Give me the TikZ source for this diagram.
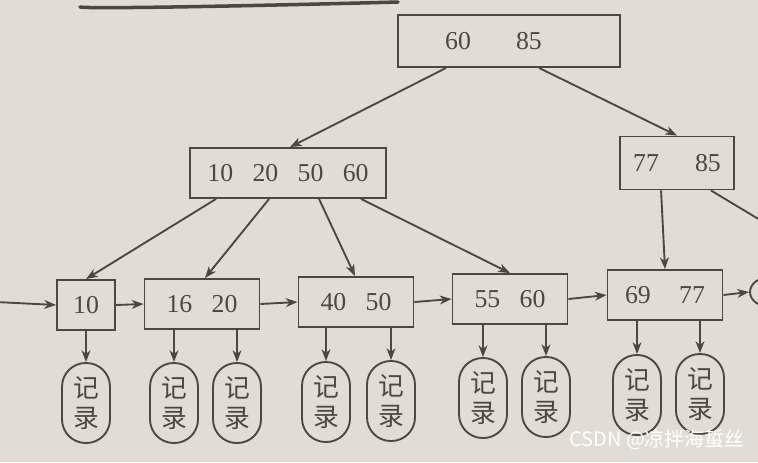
\documentclass[tikz,border=0pt]{standalone}
\usepackage{fontspec}
\setmainfont{Liberation Serif}
\newfontfamily\cjk{Noto Sans CJK SC}
\usetikzlibrary{arrows.meta}
\usetikzlibrary{calc}
\usetikzlibrary{shapes.geometric}
\definecolor{paper}{RGB}{226,221,212}
\definecolor{ink}{RGB}{78,70,64}
\newcommand{\kgap}{\hspace{0.75em}}
\tikzset{
      keybox/.style={draw=ink, line width=1.6, text=ink, inner sep=0pt,
            font=\fontsize{22}{24}\selectfont},
      record/.style={draw=ink, line width=1.6, text=ink, inner sep=0pt,
            rounded corners=0.71cm, minimum width=1.44cm, minimum height=2.4cm,
            align=center, font=\cjk\fontsize{22}{26}\selectfont},
      link/.style={draw=ink, line width=1.6, -{Stealth[length=10pt, width=7.5pt, inset=3pt]}},
}

\begin{document}
\begin{tikzpicture}[x=0.03cm, y=-0.03cm]

        \fill[paper] (0,0) rectangle (758,462);
        \useasboundingbox (0,0) rectangle (758,462);
        \clip (0,0) rectangle (758,462);

        % rule at the top of the page
        \draw[ink, line width=3, line cap=round] (80,7) .. controls (90,9) and (250,6) .. (398,2);

        % index levels
        \node[keybox, minimum width=6.66cm, minimum height=1.56cm] (root) at (509,41) {60\hspace{1.75em}85\hspace{1.2em}\mbox{}};
        \node[keybox, minimum width=5.88cm, minimum height=1.5cm] (inl) at (288,173) {10\kgap 20\kgap 50\kgap 60};
        \node[keybox, minimum width=3.42cm, minimum height=1.59cm] (inr) at (677,163) {77\hspace{1.4em}85};

        % leaves
        \node[keybox, minimum width=1.74cm, minimum height=1.5cm] (leaf1) at (86,305) {10};
        \node[keybox, minimum width=3.45cm, minimum height=1.5cm] (leaf2) at (202,304) {16\kgap 20};
        \node[keybox, minimum width=3.45cm, minimum height=1.5cm] (leaf3) at (356,302) {40\kgap 50};
        \node[keybox, minimum width=3.45cm, minimum height=1.5cm] (leaf4) at (510,299) {55\kgap 60};
        \node[keybox, minimum width=3.45cm, minimum height=1.5cm] (leaf5) at (665,295) {69\hspace{1.1em}77};
        \node[draw=ink, line width=1.6, ellipse, minimum width=1.2cm, minimum height=0.9cm] (nxt) at (770,292) {};
        \coordinate (head) at (-4,302);
        \coordinate (offr) at (790,238);

        % records
        \node[record] (rec1) at (86,403) {记\\录};
        \node[record] (rec2) at (174,403) {记\\录};
        \node[record] (rec3) at (237,403) {记\\录};
        \node[record] (rec4) at (326,402) {记\\录};
        \node[record] (rec5) at (391,401) {记\\录};
        \node[record] (rec6) at (483,398) {记\\录};
        \node[record] (rec7) at (546,397) {记\\录};
        \node[record] (rec8) at (637,395) {记\\录};
        \node[record] (rec9) at (700,394) {记\\录};

        % tree pointers
        \draw[link] ($(root.south west)+(49,0)$) -- ($(inl.north)+(2,0)$);
        \draw[link] ($(root.south west)+(142,0)$) -- (inr.north);
        \draw[link] ($(inl.south west)+(27,0)$) -- (leaf1.north);
        \draw[link] ($(inl.south west)+(80,0)$) -- ($(leaf2.north)+(3,0)$);
        \draw[link] ($(inl.south west)+(130,0)$) -- ($(leaf3.north)+(-1,0)$);
        \draw[link] ($(inl.south west)+(172,0)$) -- (leaf4.north);
        \draw[link] ($(inr.south west)+(42,0)$) -- (leaf5.north);
        \draw[draw=ink, line width=1.6] ($(inr.south east)+(-24,0)$) -- (offr);

        % leaf chain
        \draw[link] (head) -- (leaf1.west);
        \draw[link] (leaf1.east) -- (leaf2.west);
        \draw[link] (leaf2.east) -- (leaf3.west);
        \draw[link] (leaf3.east) -- (leaf4.west);
        \draw[link] (leaf4.east) -- (leaf5.west);
        \draw[link] (leaf5.east) -- (nxt.west);

        % leaves to records
        \draw[link] (leaf1.south) -- (rec1.north);
        \foreach \l/\r in {leaf2/rec2, leaf2/rec3, leaf3/rec4, leaf3/rec5, leaf4/rec6, leaf4/rec7, leaf5/rec8, leaf5/rec9}
            \draw[link] (\r.north |- \l.south) -- (\r.north);

        \node[text=white, font=\cjk\fontsize{17}{20}\selectfont] (mark) at (657,440) {CSDN @凉拌海蜇丝};

\end{tikzpicture}
\end{document}
